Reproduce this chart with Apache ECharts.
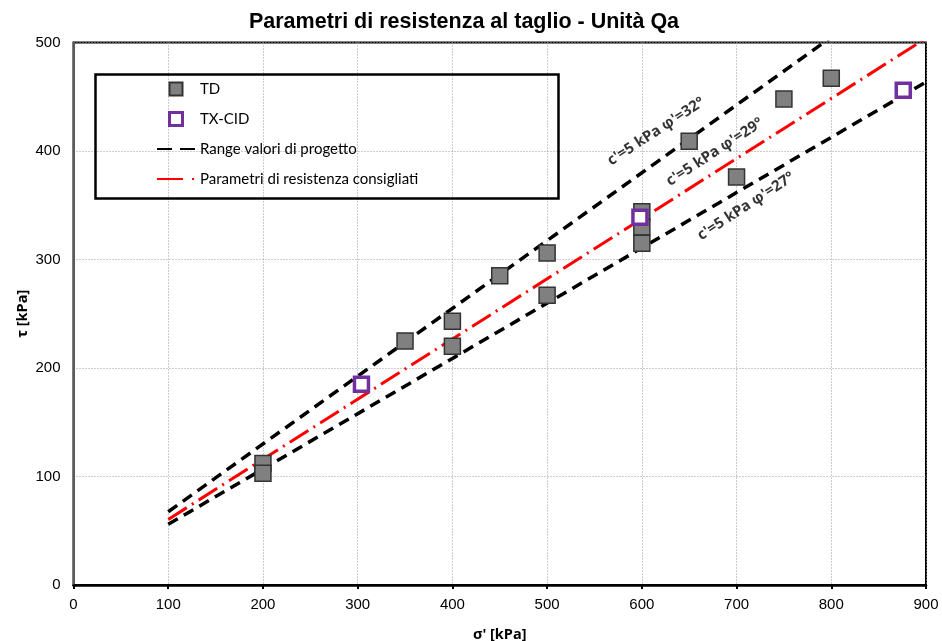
<!DOCTYPE html>
<html>
<head>
<meta charset="utf-8">
<title>Parametri di resistenza al taglio - Unità Qa</title>
<script src="https://cdn.jsdelivr.net/npm/echarts@6/dist/echarts.min.js"></script>
<style>
  html, body { margin: 0; padding: 0; background: #fff; }
  #chart { width: 942px; height: 641px; }
</style>
</head>
<body>
<div id="chart"></div>
<script>
// Direct shear tests (TD): normal stress and peak shear stress, kPa
const tdSigma = [200, 200, 350, 400, 400, 450, 500, 500, 600, 600, 600, 650, 700, 750, 800];
const tdTau   = [112, 103, 225, 243, 220, 285, 306, 267, 344, 330, 315, 409, 376, 448, 467];

// Triaxial CID tests
const txSigma = [304, 598, 876];
const txTau   = [185, 339, 456];

// Mohr-Coulomb envelopes: cohesion c' (kPa) and friction angle phi' (deg)
const cohesion = 5;
const phiRange = [32, 27];      // design range bounds
const phiRecommended = 29;      // recommended parameters
const sigmaSpan = [100, 900];   // envelope drawn over this stress range

// Envelope labels: anchor (sigma, tau) and text
const labelSigma = [615, 677, 710];
const labelTau   = [418, 399, 349];
const labelText  = ["c'=5 kPa φ'=32°", "c'=5 kPa φ'=29°", "c'=5 kPa φ'=27°"];

const xTicks = { min: 0, max: 900, interval: 100 };
const yTicks = { min: 0, max: 500, interval: 100 };

function envelope(c, phiDeg) {
  const t = Math.tan(phiDeg * Math.PI / 180);
  return sigmaSpan.map(s => [s, c + s * t]);
}

const tdData = tdSigma.map((s, i) => [s, tdTau[i]]);
const txData = txSigma.map((s, i) => [s, txTau[i]]);
const labelData = labelSigma.map((s, i) => [s, labelTau[i], labelText[i]]);

const bodyFont = 'Lato, "Open Sans", sans-serif';
const boldFont = '"Open Sans", Lato, sans-serif';
const tickFont = '"Liberation Sans", Arial, sans-serif';

const chart = echarts.init(document.getElementById('chart'), null, { renderer: 'canvas' });

const dashedBlack = { color: '#000', width: 3.5, type: [11, 7] };
const gridDots = { color: '#9a9a9a', width: 1, type: [1, 2] };
const squareIcon = 'path://M0,0H10V10H0Z';

chart.setOption({
  animation: false,
  backgroundColor: '#fff',
  title: {
    text: 'Parametri di resistenza al taglio - Unità Qa',
    left: 459, top: 6, textAlign: 'center',
    textStyle: { fontFamily: tickFont, fontSize: 21.5, fontWeight: 'bold', color: '#000' }
  },
  grid: {
    left: 73.5, right: 16, top: 42.5, bottom: 56,
    outerBoundsMode: 'none', containLabel: false,
    show: true, borderColor: '#000', borderWidth: 2, backgroundColor: 'transparent'
  },
  xAxis: {
    type: 'value', min: xTicks.min, max: xTicks.max, interval: xTicks.interval,
    name: "σ' [kPa]", nameLocation: 'middle', nameGap: 42, nameMoveOverlap: false,
    nameTextStyle: { fontFamily: boldFont, fontSize: 14.5, fontWeight: 'bold', color: '#000' },
    axisLine: { lineStyle: { color: '#000', width: 2.5 } },
    axisTick: { show: true, inside: false, length: 4, lineStyle: { color: '#000', width: 2 } },
    axisLabel: { fontFamily: tickFont, fontSize: 15, color: '#000', margin: 12 },
    splitLine: { show: true, lineStyle: gridDots }
  },
  yAxis: {
    type: 'value', min: yTicks.min, max: yTicks.max, interval: yTicks.interval,
    name: 'τ [kPa]', nameLocation: 'middle', nameGap: 43, nameRotate: 90, nameMoveOverlap: false,
    nameTextStyle: { fontFamily: boldFont, fontSize: 14.5, fontWeight: 'bold', color: '#000' },
    axisLine: { show: true, lineStyle: { color: '#5a5a5a', width: 2 } },
    axisTick: { show: false },
    axisLabel: { fontFamily: tickFont, fontSize: 15, color: '#000', margin: 13 },
    splitLine: { show: true, lineStyle: gridDots }
  },
  legend: {
    orient: 'vertical', left: 156, top: 80,
    itemWidth: 38, itemHeight: 13, itemGap: 12,
    padding: 0,
    textStyle: { fontFamily: bodyFont, fontSize: 15, color: '#000', lineHeight: 18 },
    data: [
      { name: 'TD', icon: squareIcon },
      { name: 'TX-CID', icon: squareIcon, itemStyle: { borderWidth: 3 } },
      { name: 'Range valori di progetto', itemStyle: { opacity: 0 },
        lineStyle: { type: [15, 8] } },
      { name: 'Parametri di resistenza consigliati', itemStyle: { opacity: 0 },
        lineStyle: { type: [26, 9, 2, 9] } }
    ]
  },
  graphic: [{
    type: 'rect', left: 93, top: 72, z: 100,
    shape: { width: 463, height: 124 },
    style: { fill: 'none', stroke: '#000', lineWidth: 2.5 },
    silent: true
  }],
  series: [
    {
      name: 'Range valori di progetto', type: 'line', data: envelope(cohesion, phiRange[0]),
      symbol: 'none', clip: true, itemStyle: { color: '#000' }, lineStyle: dashedBlack, z: 2
    },
    {
      name: 'Range valori di progetto', type: 'line', data: envelope(cohesion, phiRange[1]),
      symbol: 'none', clip: true, itemStyle: { color: '#000' }, lineStyle: dashedBlack, z: 2
    },
    {
      name: 'Parametri di resistenza consigliati', type: 'line', data: envelope(cohesion, phiRecommended),
      symbol: 'none', clip: true, itemStyle: { color: '#ff0000' },
      lineStyle: { color: '#ff0000', width: 3, type: [22, 6, 2, 6] }, z: 2
    },
    {
      name: 'TD', type: 'scatter', data: tdData, symbol: 'rect', symbolSize: 16,
      itemStyle: { color: '#808080', borderColor: '#333', borderWidth: 1.5, opacity: 1 }, z: 3
    },
    {
      name: 'TX-CID', type: 'scatter', data: txData, symbol: 'rect', symbolSize: 14,
      itemStyle: { color: '#fff', borderColor: '#7030a0', borderWidth: 3.5, opacity: 1 }, z: 4
    },
    {
      name: 'labels', type: 'scatter', data: labelData, symbolSize: 0, silent: true, z: 5,
      label: {
        show: true, position: 'inside', rotate: 33,
        align: 'center', verticalAlign: 'middle',
        formatter: p => p.data[2],
        fontFamily: boldFont, fontSize: 15, fontWeight: 'bold', color: '#000'
      }
    }
  ]
});
</script>
</body>
</html>
